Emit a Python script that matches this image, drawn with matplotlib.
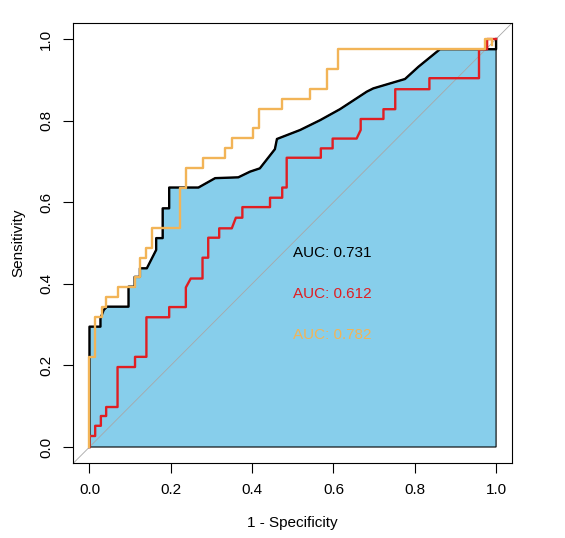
import numpy as np
import matplotlib.pyplot as plt

plt.rcParams['font.family'] = ['Liberation Sans', 'DejaVu Sans']

# ROC CURVE POINTS (1 - specificity, sensitivity)

fpr_black = [0.0, 0.0, 0.027, 0.027, 0.035, 0.043, 0.096, 0.096, 0.111, 0.111,
             0.124, 0.124, 0.141, 0.164, 0.164, 0.180, 0.180, 0.196, 0.196, 0.268,
             0.309, 0.366, 0.395, 0.419, 0.456, 0.461, 0.518, 0.567, 0.616, 0.682,
             0.698, 0.776, 0.809, 0.862, 1.0, 1.0]
tpr_black = [0.0, 0.295, 0.295, 0.315, 0.336, 0.344, 0.344, 0.393, 0.393, 0.417,
             0.417, 0.438, 0.438, 0.483, 0.512, 0.512, 0.585, 0.585, 0.636, 0.636,
             0.659, 0.661, 0.675, 0.683, 0.730, 0.755, 0.777, 0.801, 0.828, 0.871,
             0.879, 0.902, 0.932, 0.975, 0.975, 1.0]

fpr_red = [0.0, 0.0, 0.014, 0.014, 0.028, 0.028, 0.041, 0.041, 0.069, 0.069,
           0.112, 0.112, 0.140, 0.140, 0.196, 0.196, 0.237, 0.237, 0.249, 0.278,
           0.278, 0.292, 0.292, 0.319, 0.319, 0.350, 0.360, 0.376, 0.376, 0.444,
           0.444, 0.474, 0.474, 0.485, 0.485, 0.569, 0.569, 0.598, 0.598, 0.657,
           0.667, 0.667, 0.723, 0.723, 0.752, 0.752, 0.836, 0.836, 0.958, 0.958,
           0.978, 0.978, 1.0]
tpr_red = [0.0, 0.027, 0.027, 0.052, 0.052, 0.076, 0.076, 0.098, 0.098, 0.196,
           0.196, 0.221, 0.221, 0.318, 0.318, 0.343, 0.343, 0.391, 0.413, 0.413,
           0.464, 0.464, 0.513, 0.513, 0.536, 0.536, 0.562, 0.562, 0.588, 0.588,
           0.611, 0.611, 0.636, 0.636, 0.709, 0.709, 0.732, 0.732, 0.756, 0.756,
           0.777, 0.804, 0.804, 0.828, 0.828, 0.877, 0.877, 0.904, 0.904, 0.975,
           0.975, 1.0, 1.0]

fpr_orange = [0.0, 0.0, 0.014, 0.014, 0.031, 0.031, 0.041, 0.041, 0.071, 0.071,
              0.112, 0.112, 0.124, 0.124, 0.139, 0.139, 0.153, 0.153, 0.223, 0.223,
              0.237, 0.237, 0.280, 0.280, 0.333, 0.333, 0.350, 0.350, 0.401, 0.401,
              0.418, 0.418, 0.474, 0.474, 0.542, 0.542, 0.585, 0.585, 0.612, 0.612,
              0.972, 0.972, 0.990, 0.990]
tpr_orange = [0.0, 0.221, 0.221, 0.319, 0.319, 0.344, 0.344, 0.368, 0.368, 0.391,
              0.391, 0.416, 0.416, 0.463, 0.463, 0.487, 0.487, 0.536, 0.536, 0.636,
              0.636, 0.684, 0.684, 0.708, 0.708, 0.732, 0.732, 0.757, 0.757, 0.781,
              0.781, 0.828, 0.828, 0.853, 0.853, 0.877, 0.877, 0.926, 0.926, 0.975,
              0.975, 1.0, 1.0, 0.985]

auc_labels = ['AUC: 0.731', 'AUC: 0.612', 'AUC: 0.782']
auc_y = [0.475, 0.375, 0.275]
colors = ['black', '#E01E22', '#F2B457']

ticks = [0.0, 0.2, 0.4, 0.6, 0.8, 1.0]

# PLOT

fig = plt.figure(figsize=(5.65, 5.38), dpi=100)
ax = fig.add_axes([0.1296, 0.1388, 0.7772, 0.819])

# area under the first curve
poly_x = fpr_black + [1.0, 0.0]
poly_y = tpr_black + [0.0, 0.0]
ax.fill(poly_x, poly_y, facecolor='#87CEEB', edgecolor='black', linewidth=0.8, zorder=1)

# diagonal reference line
ax.axline((0, 0), (1, 1), color='#A8A8A8', linewidth=0.6, zorder=2)

ax.plot(fpr_black, tpr_black, color=colors[0], linewidth=1.7, zorder=3)
ax.plot(fpr_red, tpr_red, color=colors[1], linewidth=1.7, zorder=4)
ax.plot(fpr_orange, tpr_orange, color=colors[2], linewidth=1.7, zorder=5)

for label, yy, c in zip(auc_labels, auc_y, colors):
    ax.text(0.5, yy, label, color=c, fontsize=11, ha='left', va='center', zorder=6)

ax.set_xlim(-0.04, 1.04)
ax.set_ylim(-0.04, 1.04)

ax.set_xticks(ticks)
ax.set_yticks(ticks)
ax.set_xticklabels([f"{t:.1f}" for t in ticks])
ax.set_yticklabels([f"{t:.1f}" for t in ticks], rotation=90, va='center')
ax.tick_params(direction='out', length=7.5, width=0.8, labelsize=11, pad=7)

for s in ax.spines.values():
    s.set_linewidth(0.8)

ax.set_xlabel("1 - Specificity", fontsize=11)
ax.set_ylabel("Sensitivity", fontsize=11)
ax.xaxis.set_label_coords(0.5, -0.12)
ax.yaxis.set_label_coords(-0.11, 0.5)

plt.savefig("out.png", dpi=100)
